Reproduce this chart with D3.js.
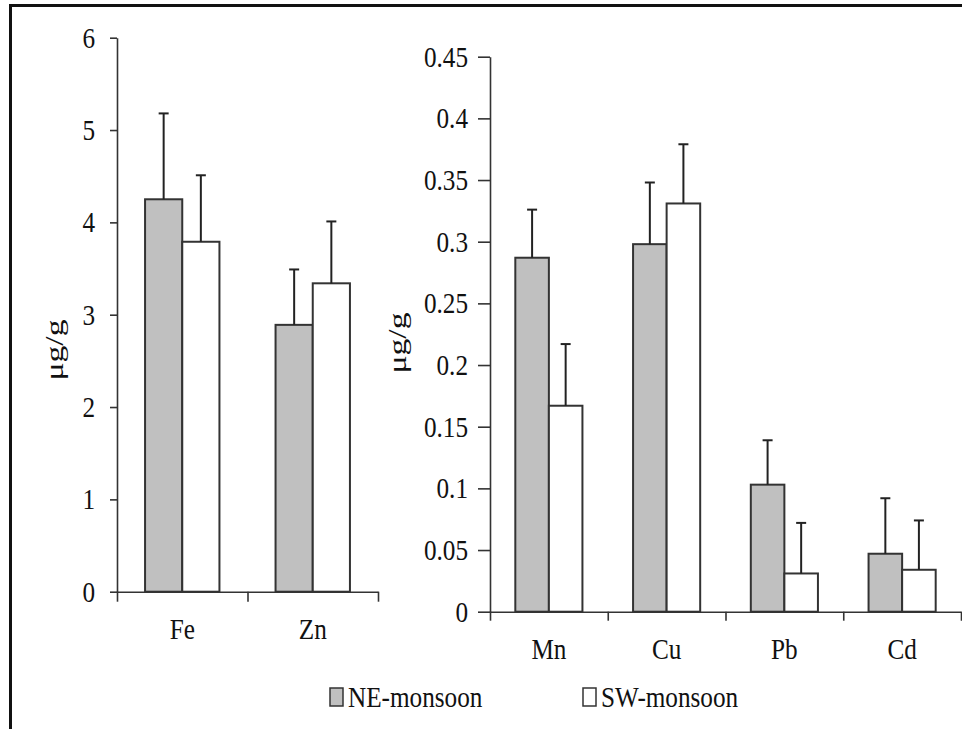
<!DOCTYPE html>
<html>
<head>
<meta charset="utf-8">
<script src="https://cdn.jsdelivr.net/npm/d3@7"></script>
<style>
  body { margin: 0; background: #fff; }
  svg { display: block; }
  text { font-family: "Liberation Serif", "Times New Roman", serif; fill: #111; }
</style>
</head>
<body>
<div id="chart"></div>
<script>
const width = 962;
const height = 729;

// left panel (major elements)
const leftCats = ["Fe", "Zn"];
const leftNE = [4.25, 2.89];
const leftNEErr = [0.93, 0.6];
const leftSW = [3.79, 3.34];
const leftSWErr = [0.72, 0.67];
const leftTicks = [0, 1, 2, 3, 4, 5, 6];

// right panel (trace elements)
const rightCats = ["Mn", "Cu", "Pb", "Cd"];
const rightNE = [0.287, 0.298, 0.103, 0.047];
const rightNEErr = [0.039, 0.05, 0.036, 0.045];
const rightSW = [0.167, 0.331, 0.031, 0.034];
const rightSWErr = [0.05, 0.048, 0.041, 0.04];
const rightTicks = [0, 0.05, 0.1, 0.15, 0.2, 0.25, 0.3, 0.35, 0.4, 0.45];

const seriesNames = ["NE-monsoon", "SW-monsoon"];
const seriesFill = ["#c0c0c0", "#ffffff"];
const yTitle = "μg/g";

const sx = 0.9;   // text looks squeezed sideways in the original
const sy = 1.04;
const fontSize = 28;
const ink = "#333";

const svg = d3
  .select("#chart")
  .append("svg")
  .attr("width", width)
  .attr("height", height);

// frame (only top and left edges are visible)
svg.append("line")
  .attr("x1", 10.5).attr("x2", 10.5).attr("y1", 4).attr("y2", height)
  .attr("stroke", "#111").attr("stroke-width", 3);
svg.append("line")
  .attr("x1", 9).attr("x2", width).attr("y1", 5.5).attr("y2", 5.5)
  .attr("stroke", "#111").attr("stroke-width", 3);

function drawPanel(p) {
  const g = svg.append("g");
  const rows = p.cats.map((c, i) => ({
    cat: c,
    vals: [
      { s: 0, v: p.ne[i], e: p.neErr[i] },
      { s: 1, v: p.sw[i], e: p.swErr[i] },
    ],
  }));

  const y = d3.scaleLinear().domain(p.domain).range([p.yBot, p.yTop]);
  const xBand = d3.scaleBand().domain(p.cats).range([p.x0, p.x1]);
  const gap = xBand.bandwidth() * 0.215;
  const xSub = d3
    .scaleBand()
    .domain([0, 1])
    .range([gap, xBand.bandwidth() - gap]);

  // bars
  const groups = g
    .selectAll("g.cat")
    .data(rows)
    .enter()
    .append("g")
    .attr("class", "cat")
    .attr("transform", (d) => `translate(${xBand(d.cat)},0)`);

  groups
    .selectAll("rect")
    .data((d) => d.vals)
    .enter()
    .append("rect")
    .attr("x", (d) => xSub(d.s))
    .attr("y", (d) => y(d.v))
    .attr("width", xSub.bandwidth())
    .attr("height", (d) => y(0) - y(d.v))
    .attr("fill", (d) => seriesFill[d.s])
    .attr("stroke", ink)
    .attr("stroke-width", 2);

  // error bars (upper half only)
  const err = groups
    .selectAll("g.err")
    .data((d) => d.vals)
    .enter()
    .append("g")
    .attr("class", "err")
    .attr("stroke", "#222")
    .attr("stroke-width", 2);
  err.append("line")
    .attr("x1", (d) => xSub(d.s) + xSub.bandwidth() / 2)
    .attr("x2", (d) => xSub(d.s) + xSub.bandwidth() / 2)
    .attr("y1", (d) => y(d.v))
    .attr("y2", (d) => y(d.v + d.e));
  err.append("line")
    .attr("x1", (d) => xSub(d.s) + xSub.bandwidth() / 2 - 5)
    .attr("x2", (d) => xSub(d.s) + xSub.bandwidth() / 2 + 5)
    .attr("y1", (d) => y(d.v + d.e))
    .attr("y2", (d) => y(d.v + d.e));

  // y axis
  const yAxis = g
    .append("g")
    .attr("transform", `translate(${p.x0},0)`)
    .call(
      d3.axisLeft(y)
        .tickValues(p.ticks)
        .tickFormat((d) => +d.toFixed(2))
        .tickSize(p.yTick)
        .tickSizeOuter(0)
    );
  yAxis.selectAll("path, line").attr("stroke", ink).attr("stroke-width", 1.6);
  yAxis.selectAll("text")
    .attr("x", -p.labelGap / sx)
    .attr("dy", "0.33em")
    .attr("transform", `scale(${sx},${sy})`)
    .style("font-size", fontSize + "px")
    .style("font-family", null);

  // x axis: tick marks on category boundaries, labels centred
  const xBound = d3.scaleLinear().domain([0, p.cats.length]).range([p.x0, p.x1]);
  const xAxis = g
    .append("g")
    .attr("transform", `translate(0,${p.yBot})`)
    .call(
      d3.axisBottom(xBound)
        .tickValues(d3.range(p.cats.length + 1))
        .tickFormat("")
        .tickSize(p.xTick)
        .tickSizeOuter(0)
    );
  xAxis.selectAll("path, line").attr("stroke", ink).attr("stroke-width", 1.6);

  const xLab = g
    .append("g")
    .attr("transform", `translate(0,${p.yBot})`)
    .call(d3.axisBottom(xBand).tickSize(0));
  xLab.select(".domain").remove();
  xLab.selectAll("text")
    .attr("y", 0)
    .attr("dy", 0)
    .attr("transform", `translate(0,47) scale(${sx},${sy})`)
    .style("font-size", fontSize + "px")
    .style("font-family", null);

  // axis title
  g.append("text")
    .attr("transform", `translate(${p.labelX},${p.labelY}) rotate(-90) scale(1.2,0.88)`)
    .attr("text-anchor", "middle")
    .attr("dy", "0.3em")
    .style("font-size", fontSize + "px")
    .text(yTitle);
}

drawPanel({
  cats: leftCats, ne: leftNE, neErr: leftNEErr, sw: leftSW, swErr: leftSWErr,
  ticks: leftTicks, domain: [0, 6],
  x0: 117, x1: 378, yTop: 37.7, yBot: 591.7,
  yTick: 7, xTick: 10, labelGap: 22,
  labelX: 56, labelY: 350,
});

drawPanel({
  cats: rightCats, ne: rightNE, neErr: rightNEErr, sw: rightSW, swErr: rightSWErr,
  ticks: rightTicks, domain: [0, 0.45],
  x0: 490, x1: 961, yTop: 56.7, yBot: 611.7,
  yTick: 12, xTick: 9, labelGap: 22,
  labelX: 399, labelY: 343,
});

// legend
const legendX = [330, 583];
const legend = svg
  .selectAll("g.legend")
  .data(seriesNames)
  .enter()
  .append("g")
  .attr("class", "legend")
  .attr("transform", (d, i) => `translate(${legendX[i]},688)`);
legend.append("rect")
  .attr("width", 13)
  .attr("height", 18)
  .attr("fill", (d, i) => seriesFill[i])
  .attr("stroke", ink)
  .attr("stroke-width", 1.5);
legend.append("text")
  .attr("transform", `translate(18,19) scale(${sx},${sy})`)
  .style("font-size", fontSize + "px")
  .text((d) => d);
</script>
</body>
</html>
